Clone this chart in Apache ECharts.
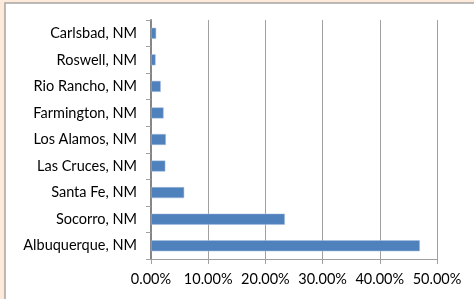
<!DOCTYPE html>
<html lang="en">
<head>
    <meta charset="utf-8">
    <title>New Mexico cities</title>
    <script src="https://cdn.jsdelivr.net/npm/echarts@6/dist/echarts.min.js"></script>
    <style>
        html, body { margin: 0; padding: 0; background: #fdeada; }
        #chart { width: 474px; height: 299px; }
    </style>
</head>
<body>
<div id="chart"></div>
<script type="text/javascript">
    // top to bottom, as in the picture
    var cities = ['Carlsbad, NM', 'Roswell, NM', 'Rio Rancho, NM', 'Farmington, NM',
        'Los Alamos, NM', 'Las Cruces, NM', 'Santa Fe, NM', 'Socorro, NM', 'Albuquerque, NM'];
    var shares = [0.009, 0.008, 0.017, 0.022, 0.026, 0.025, 0.058, 0.234, 0.470];
    var xTicks = [0, 0.1, 0.2, 0.3, 0.4, 0.5];

    var myChart = echarts.init(document.getElementById('chart'));
    var font = 'Lato';

    myChart.setOption({
        backgroundColor: '#fdeada',
        animation: false,
        graphic: [{
            type: 'rect',
            shape: { x: 5, y: 3, width: 480, height: 310 },
            style: { fill: '#ffffff', stroke: '#a5a5a5', lineWidth: 1.5 },
            z: -10
        }],
        grid: { left: 151, right: 37, top: 20, bottom: 40 },
        xAxis: {
            type: 'value',
            min: xTicks[0],
            max: xTicks[xTicks.length - 1],
            interval: 0.1,
            axisLine: { show: true, lineStyle: { color: '#a0a0a0', width: 1 } },
            axisTick: { show: true, length: 5, lineStyle: { color: '#a0a0a0' } },
            splitLine: { show: true, lineStyle: { color: '#a0a0a0', width: 1 } },
            axisLabel: {
                color: '#000', fontFamily: font, fontSize: 14.5, margin: 13,
                formatter: function (v) { return (v * 100).toFixed(2) + '%'; }
            }
        },
        yAxis: {
            type: 'category',
            inverse: true,
            data: cities,
            axisLine: { show: true, lineStyle: { color: '#868686', width: 2 } },
            axisTick: { show: true, length: 5, lineStyle: { color: '#a0a0a0' } },
            axisLabel: { color: '#000', fontFamily: font, fontSize: 14.5, margin: 14 }
        },
        series: [{
            type: 'bar',
            data: shares,
            barWidth: 11,
            itemStyle: { color: '#4f81bd', borderColor: '#a7bfde', borderWidth: 0.5 }
        }]
    });
</script>
</body>
</html>
